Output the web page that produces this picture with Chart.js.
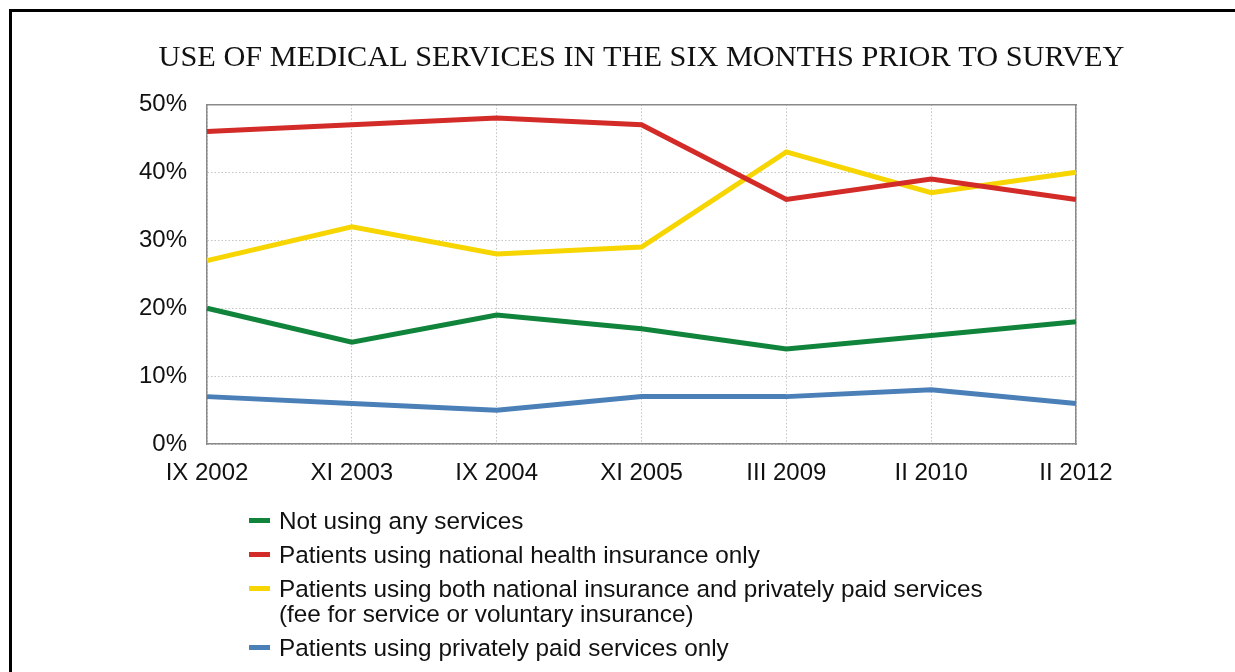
<!DOCTYPE html>
<html>
<head>
<meta charset="utf-8">
<script src="https://cdn.jsdelivr.net/npm/chart.js@4/dist/chart.umd.min.js"></script>
<style>
  html, body { margin: 0; padding: 0; background: #fff; overflow: hidden; }
  body { width: 1235px; height: 672px; position: relative; }
  #frame { position: absolute; left: 9px; top: 9px; width: 1400px; height: 800px;
           border-top: 3px solid #000; border-left: 3px solid #000; box-sizing: border-box; }
  #wrap { position: absolute; left: 0; top: 0; width: 1235px; height: 672px; }
  #legend { position: absolute; left: 249px; top: 508px; font-family: "Liberation Sans", Arial, sans-serif;
            font-size: 24.3px; color: #111; }
  .item { position: relative; padding-left: 30px; line-height: 25px; margin-bottom: 9px; }
  .mark { position: absolute; left: 0; top: 10px; width: 21px; height: 5px; }
</style>
</head>
<body>
<div id="frame"></div>
<div id="wrap"><canvas id="c" width="1235" height="672"></canvas></div>
<div id="legend"></div>
<script>
const titleText = "USE OF MEDICAL SERVICES IN THE SIX MONTHS PRIOR TO SURVEY";
const categories = ["IX 2002", "XI 2003", "IX 2004", "XI 2005", "III 2009", "II 2010", "II 2012"];
const seriesNames = [
  ["Not using any services"],
  ["Patients using national health insurance only"],
  ["Patients using both national insurance and privately paid services", "(fee for service or voluntary insurance)"],
  ["Patients using privately paid services only"]
];
const notUsing = [20, 15, 19, 17, 14, 16, 18];
const nhiOnly = [46, 47, 48, 47, 36, 39, 36];
const bothTypes = [27, 32, 28, 29, 43, 37, 40];
const privateOnly = [7, 6, 5, 7, 7, 8, 6];
const yTicks = [0, 10, 20, 30, 40, 50];
const colors = ["#11843c", "#d32b27", "#f6d500", "#4a7fb8"];

const seriesValues = [notUsing, nhiOnly, bothTypes, privateOnly];
const datasets = seriesValues.map((vals, i) => ({
  label: seriesNames[i].join(" "),
  data: vals,
  borderColor: colors[i],
  backgroundColor: colors[i],
  borderWidth: 5,
  pointRadius: 0,
  pointHoverRadius: 0,
  tension: 0,
  fill: false,
  borderCapStyle: 'butt',
  borderJoinStyle: 'miter'
}));

const tickFont = { family: "'Liberation Sans', Arial, sans-serif", size: 24 };

new Chart(document.getElementById('c'), {
  type: 'line',
  data: { labels: categories, datasets },
  options: {
    responsive: false,
    animation: false,
    devicePixelRatio: 1,
    layout: { padding: { left: 100, right: 52, top: 10, bottom: 169 } },
    plugins: {
      legend: { display: false },
      tooltip: { enabled: false },
      title: {
        display: true,
        text: titleText,
        color: '#111',
        font: { family: "'Liberation Serif', 'Times New Roman', serif", size: 30.3, weight: 'normal', lineHeight: 1.2 },
        padding: { top: 30, bottom: 28 }
      }
    },
    scales: {
      x: {
        type: 'category',
        offset: false,
        grid: { display: true, color: '#c4c4c4', lineWidth: 1, drawTicks: false },
        border: { display: true, color: '#8a8a8a', width: 1.5, dash: [1.5, 2] },
        ticks: { color: '#111', font: tickFont, padding: 15, maxRotation: 0, autoSkip: false }
      },
      xTop: {
        type: 'category',
        position: 'top',
        labels: categories,
        offset: false,
        grid: { display: false, drawTicks: false },
        border: { display: true, color: '#8a8a8a', width: 1.5 },
        ticks: { display: false },
        afterFit: (s) => { s.height = 0; }
      },
      y: {
        min: 0, max: 50,
        afterBuildTicks: (s) => { s.ticks = yTicks.map(v => ({ value: v })); },
        grid: { display: true, color: '#c4c4c4', lineWidth: 1, drawTicks: false },
        border: { display: true, color: '#8a8a8a', width: 1.5, dash: [1.5, 2] },
        ticks: { color: '#111', font: tickFont, padding: 20, callback: (v) => v + '%' },
        afterFit: (s) => { s.width = 107; }
      },
      yRight: {
        position: 'right',
        min: 0, max: 50,
        grid: { display: false, drawTicks: false },
        border: { display: true, color: '#8a8a8a', width: 1.5 },
        ticks: { display: false },
        afterFit: (s) => { s.width = 107; }
      }
    }
  }
});

const legend = document.getElementById('legend');
seriesNames.forEach((lines, i) => {
  const item = document.createElement('div');
  item.className = 'item';
  const mark = document.createElement('span');
  mark.className = 'mark';
  mark.style.background = colors[i];
  item.appendChild(mark);
  lines.forEach((t, j) => {
    if (j > 0) item.appendChild(document.createElement('br'));
    item.appendChild(document.createTextNode(t));
  });
  legend.appendChild(item);
});
</script>
</body>
</html>
